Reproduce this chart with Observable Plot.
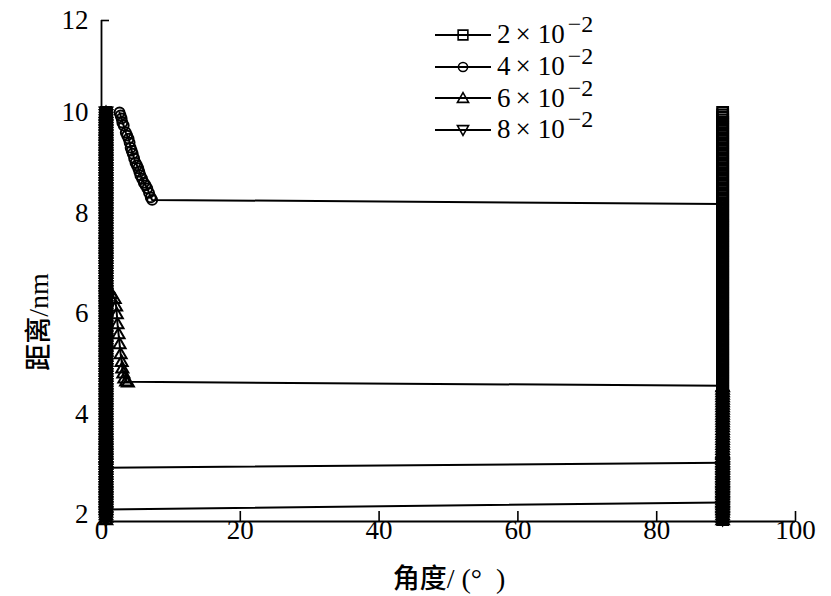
<!DOCTYPE html>
<html><head><meta charset="utf-8">
<script src="https://cdn.jsdelivr.net/npm/d3@7"></script>
<script src="https://cdn.jsdelivr.net/npm/@observablehq/plot@0.6"></script>
<style>
body{margin:0;background:#fff;}
#wrap{position:relative;width:831px;height:596px;}
#legend{position:absolute;left:435px;top:19px;font-family:"Liberation Serif","Times New Roman",serif;font-size:27px;color:#000;}
.row{height:31.7px;display:flex;align-items:center;white-space:nowrap;}
.row svg{width:58px;height:32px;margin-right:4px;flex:none;}
.row .mx{margin:0 7px 0 5px;}
.row .ex{font-size:24px;position:relative;top:-10px;margin-left:3px;}
.title{position:absolute;font-family:"Liberation Serif","Times New Roman","Noto Sans CJK SC",serif;font-size:28px;color:#000;white-space:pre;line-height:1;}
.title .cjk{font-family:"Noto Sans CJK SC",sans-serif;font-weight:500;font-size:27px;}
#ytitle{left:38px;top:322px;transform:translate(-50%,-50%) rotate(-90deg);}
#xtitle{left:449px;top:578px;transform:translate(-50%,-50%);}
</style>
</head><body>
<div id="wrap"><div id="chart"></div><div id="legend"></div><div id="ytitle" class="title"></div><div id="xtitle" class="title"></div></div>
<script>
// ---- data ----
const xTicks = [0, 20, 40, 60, 80, 100];
const yTickLabels = [2, 4, 6, 8, 10, 12];
const yMin = 1.86, yMax = 11.83;
const xTitleParts = [["角度", true], ["/ (°\u00a0\u00a0)", false]];
const yTitleParts = [["距离", true], ["/nm", false]];
const seriesMantissa = ["2", "4", "6", "8"];
const seriesExponent = "−2";
const columnX = [0.65, 89.5];

// sampled distances (nm) forming the dense marker columns
const distanceSteps = [
10,9.95,9.9,9.85,9.8,9.75,9.7,9.65,9.6,9.55,
9.5,9.45,9.4,9.35,9.3,9.25,9.2,9.15,9.1,9.05,
9,8.95,8.9,8.85,8.8,8.75,8.7,8.65,8.6,8.55,
8.5,8.45,8.4,8.35,8.3,8.25,8.2,8.15,8.1,8.05,
8,7.95,7.9,7.85,7.8,7.75,7.7,7.65,7.6,7.55,
7.5,7.45,7.4,7.35,7.3,7.25,7.2,7.15,7.1,7.05,
7,6.95,6.9,6.85,6.8,6.75,6.7,6.65,6.6,6.55,
6.5,6.45,6.4,6.35,6.3,6.25,6.2,6.15,6.1,6.05,
6,5.95,5.9,5.85,5.8,5.75,5.7,5.65,5.6,5.55,
5.5,5.45,5.4,5.35,5.3,5.25,5.2,5.15,5.1,5.05,
5,4.95,4.9,4.85,4.8,4.75,4.7,4.65,4.6,4.55,
4.5,4.45,4.4,4.35,4.3,4.25,4.2,4.15,4.1,4.05,
4,3.95,3.9,3.85,3.8,3.75,3.7,3.65,3.6,3.55,
3.5,3.45,3.4,3.35,3.3,3.25,3.2,3.15,3.1,3.05,
3,2.95,2.9,2.85,2.8,2.75,2.7,2.65,2.6,2.55,
2.5,2.45,2.4,2.35,2.3,2.25,2.2,2.15,2.1,2.05,
2,1.95,1.9];

// series paths (angle, distance)
const sqPathX = [0.65, 89.5];
const sqPathY = [2.10, 2.24];
const ciPathX = [2.6,2.75,2.9,3.0,3.2,3.5,3.7,3.9,4.05,4.2,4.35,4.5,4.7,4.9,5.1,5.3,5.45,5.6,5.85,6.1,6.35,6.6,6.85,7.1,7.3,89.5];
const ciPathY = [10.0,9.94,9.88,9.8,9.74,9.6,9.54,9.48,9.4,9.3,9.24,9.18,9.09,9.0,8.95,8.89,8.82,8.75,8.68,8.6,8.55,8.49,8.4,8.31,8.26,8.18];
const tuPathX = [0.65,1.0,1.4,1.9,2.1,2.2,2.3,2.45,2.6,2.75,2.9,3.0,3.15,3.3,3.55,3.8,89.5];
const tuPathY = [6.6,6.5,6.4,6.3,6.15,6.0,5.8,5.6,5.4,5.2,5.05,4.92,4.82,4.72,4.66,4.64,4.56];
const tdPathX = [0.65, 89.5];
const tdPathY = [2.93, 3.03];

// distance ranges covered by each series' marker columns [left column, right column]
const sqColumns = [[8.3, 10], [1.9, 10]];
const ciColumns = [null, [1.9, 8.18]];
const tuColumns = [[1.9, 10], [1.9, 4.56]];
const tdColumns = [[1.9, 10], [1.9, 3.03]];

// ---- symbols ----
const symSquare = {draw(c, size){const h = Math.sqrt(size)*0.48; c.moveTo(-h,-h); c.lineTo(h,-h); c.lineTo(h,h); c.lineTo(-h,h); c.closePath();}};
const symCircle = {draw(c, size){const r = Math.sqrt(size)*0.45; c.moveTo(r,0); c.arc(0,0,r,0,2*Math.PI); c.closePath();}};
const symTriUp = {draw(c, size){const s = Math.sqrt(size); const w = s*0.55, h = s*0.95; c.moveTo(0,-h*0.55); c.lineTo(w,h*0.45); c.lineTo(-w,h*0.45); c.closePath();}};
const symTriDown = {draw(c, size){const s = Math.sqrt(size); const w = s*0.55, h = s*0.95; c.moveTo(0,h*0.55); c.lineTo(w,-h*0.45); c.lineTo(-w,-h*0.45); c.closePath();}};

const series = [
  {px: sqPathX, py: sqPathY, cols: sqColumns, sym: symSquare},
  {px: ciPathX, py: ciPathY, cols: ciColumns, sym: symCircle},
  {px: tuPathX, py: tuPathY, cols: tuColumns, sym: symTriUp},
  {px: tdPathX, py: tdPathY, cols: tdColumns, sym: symTriDown}
];

const R = 6.2;
const marks = [];
for (const s of series) {
  const path = s.px.map((x, i) => ({x, y: s.py[i]}));
  marks.push(Plot.line(path, {x: "x", y: "y", stroke: "black", strokeWidth: 2}));
}
for (const s of series) {
  const pts = [];
  s.cols.forEach((rng, ci) => {
    if (!rng) return;
    for (const d of distanceSteps) if (d >= rng[0] - 1e-9 && d <= rng[1] + 1e-9) pts.push({x: columnX[ci], y: d});
  });
  marks.push(Plot.dot(pts, {x: "x", y: "y", symbol: s.sym, r: R, stroke: "black", fill: "none", strokeWidth: 2.3}));
  const path = s.px.map((x, i) => ({x, y: s.py[i]}));
  marks.push(Plot.dot(path, {x: "x", y: "y", symbol: s.sym, r: R, stroke: "black", fill: "none", strokeWidth: 2}));
}

const yTickPos = yTickLabels.map(v => Math.min(v, yMax));
const serifFont = '"Liberation Serif", "Times New Roman", serif';

const chart = Plot.plot({
  width: 831, height: 596,
  marginLeft: 101, marginRight: 36, marginTop: 20, marginBottom: 75,
  x: {domain: [0, 100]},
  y: {domain: [yMin, yMax]},
  style: {fontFamily: serifFont, fontSize: "27px", color: "black", background: "white", overflow: "visible"},
  marks: [
    Plot.ruleX([0], {stroke: "black", strokeWidth: 1.8}),
    Plot.ruleY([yMin], {stroke: "black", strokeWidth: 1.8}),
    Plot.axisX({ticks: xTicks, tickSize: -10, tickPadding: 8, tickFormat: d => String(d), label: null, strokeWidth: 1.6}),
    Plot.axisY({ticks: yTickPos, tickSize: -8, tickPadding: 21, tickFormat: d => String(yTickLabels[yTickPos.indexOf(d)]), label: null, strokeWidth: 1.6}),
    ...marks
  ]
});
document.getElementById("chart").appendChild(chart);

// ---- axis titles ----
function fillTitle(id, parts) {
  const el = d3.select(id);
  for (const [t, cjk] of parts) el.append("span").attr("class", cjk ? "cjk" : null).text(t);
}
fillTitle("#ytitle", yTitleParts);
fillTitle("#xtitle", xTitleParts);

// ---- legend ----
const syms = [symSquare, symCircle, symTriUp, symTriDown];
const legend = d3.select("#legend");
seriesMantissa.forEach((m, i) => {
  const row = legend.append("div").attr("class", "row");
  const svg = row.append("svg");
  svg.append("line").attr("x1", 0).attr("x2", 56).attr("y1", 16).attr("y2", 16).attr("stroke", "black").attr("stroke-width", 1.8);
  svg.append("path").attr("transform", "translate(28,16)")
    .attr("d", d3.symbol().type(syms[i]).size(Math.PI * R * R * 0.85)())
    .attr("fill", "none").attr("stroke", "black").attr("stroke-width", 1.6);
  row.append("span").text(m);
  row.append("span").attr("class", "mx").text("×");
  row.append("span").text("10");
  row.append("span").attr("class", "ex").text(seriesExponent);
});
</script>
</body></html>
